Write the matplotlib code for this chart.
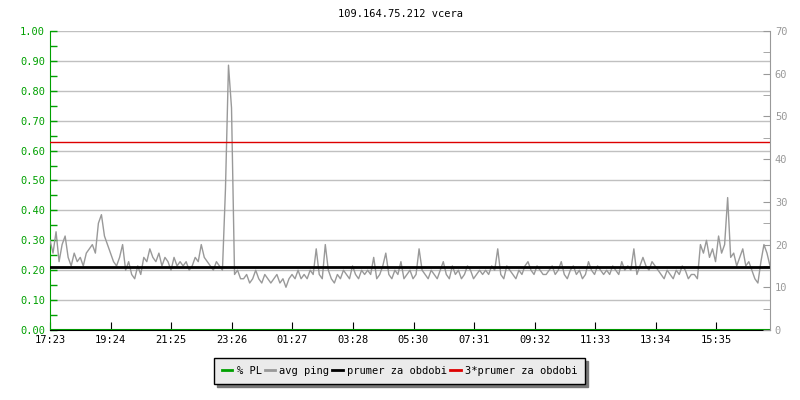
import numpy as np
import matplotlib
matplotlib.use("Agg")
import matplotlib.pyplot as plt
from matplotlib.ticker import MultipleLocator, FormatStrFormatter

plt.rcParams['font.family'] = ['DejaVu Sans Mono']
plt.rcParams['font.size'] = 7.5

title = "109.164.75.212 vcera"
tick_minutes = [0, 121, 242, 363, 484, 605, 727, 848, 969, 1090, 1211, 1332]
tick_labels = ["17:23", "19:24", "21:25", "23:26", "01:27", "03:28",
               "05:30", "07:31", "09:32", "11:33", "13:34", "15:35"]
span_minutes = 1440

# avg ping in ms, one sample per ~6 minutes
avg_ping = [
    21, 18, 23, 16, 20, 22, 17, 15, 18, 16, 17, 15, 18, 19, 20, 18, 25, 27, 22, 20, 18, 16, 15, 17,
    20, 14, 16, 13, 12, 15, 13, 17, 16, 19, 17, 16, 18, 15, 17, 16, 14, 17, 15, 16,
    15, 16, 14, 15, 17, 16, 20, 17, 16, 15, 14, 16, 15, 14, 33, 62, 52, 13, 14, 12,
    12, 13, 11, 12, 14, 12, 11, 13, 12, 11, 12, 13, 11, 12, 10, 12, 13, 12, 14, 12,
    13, 12, 14, 13, 19, 13, 12, 20, 14, 12, 11, 13, 12, 14, 13, 12, 15, 13, 12, 14,
    13, 14, 13, 17, 12, 13, 15, 18, 13, 12, 14, 13, 16, 12, 13, 14, 12, 13, 19, 14,
    13, 12, 14, 13, 12, 14, 16, 13, 12, 15, 13, 14, 12, 13, 15, 14, 12, 13, 14, 13,
    14, 13, 15, 14, 19, 13, 12, 15, 14, 13, 12, 14, 13, 15, 16, 14, 13, 15, 14, 13,
    13, 14, 15, 13, 14, 16, 13, 12, 14, 15, 13, 14, 12, 13, 16, 14, 13, 15, 14, 13,
    14, 13, 15, 14, 13, 16, 14, 15, 14, 19, 13, 15, 17, 15, 14, 16, 15, 14, 13, 12,
    14, 13, 12, 14, 13, 15, 14, 12, 13, 13, 12, 20, 18, 21, 17, 19, 16, 22, 18, 20,
    31, 17, 18, 15, 17, 19, 15, 16, 14, 12, 11, 16, 20, 18, 15,
]
packet_loss = [0.0] * len(avg_ping)
mean_ping = 14.7

green = "#00a000"
grey = "#999999"

fig = plt.figure(figsize=(8, 4), dpi=100)
ax = fig.add_axes([0.0625, 0.175, 0.9, 0.7475])
ax2 = ax.twinx()

t = np.linspace(0, span_minutes, len(avg_ping))

ax.set_ylim(0, 1)
ax.set_xlim(0, span_minutes)
ax.yaxis.set_major_locator(MultipleLocator(0.1))
ax.yaxis.set_minor_locator(MultipleLocator(0.05))
ax.yaxis.set_major_formatter(FormatStrFormatter("%.2f"))
ax.grid(axis="y", color="#c0c0c0", lw=1)
ax.set_axisbelow(True)
ax.tick_params(axis="y", which="both", direction="in", colors=green, length=5, width=1)
ax.tick_params(axis="y", labelcolor=green)
ax.tick_params(axis="x", direction="in", length=6, colors="black")
ax.set_xticks(tick_minutes)
ax.set_xticklabels(tick_labels)
ax.spines["left"].set_color(green)
ax.spines["top"].set_visible(False)
ax.spines["right"].set_visible(False)
ax.spines["bottom"].set_color("black")
ax.spines["bottom"].set_zorder(5)
ax.plot(t, packet_loss, color=green, lw=1.5, label="% PL")

ax2.set_ylim(0, 70)
ax2.yaxis.set_major_locator(MultipleLocator(10))
ax2.yaxis.set_minor_locator(MultipleLocator(5))
ax2.tick_params(axis="y", which="both", direction="in", colors=grey, length=5)
ax2.spines["right"].set_color(grey)
for s in ["left", "top", "bottom"]:
    ax2.spines[s].set_visible(False)
ax2.plot(t, avg_ping, color=grey, lw=1, label="avg ping")
ax2.axhline(mean_ping, color="black", lw=2, label="prumer za obdobi")
ax2.axhline(3 * mean_ping, color="#dd0000", lw=1, label="3*prumer za obdobi")

fig.text(0.5, 0.965, title, ha="center", va="center", fontsize=7.5)

h1, l1 = ax.get_legend_handles_labels()
h2, l2 = ax2.get_legend_handles_labels()
leg = fig.legend(h1 + h2, l1 + l2, loc="center", bbox_to_anchor=(0.4995, 0.0725), ncol=4,
                 frameon=True, fancybox=False, shadow={"color": "#777777", "alpha": 1},
                 handlelength=1.0, handletextpad=0.4, columnspacing=0.3,
                 borderpad=0.75, borderaxespad=0, fontsize=7.5)
leg.get_frame().set_facecolor("#ebebeb")
leg.get_frame().set_edgecolor("black")
leg.get_frame().set_alpha(1)
for line in leg.get_lines():
    line.set_linewidth(2)

fig.savefig("out.png", dpi=100)
